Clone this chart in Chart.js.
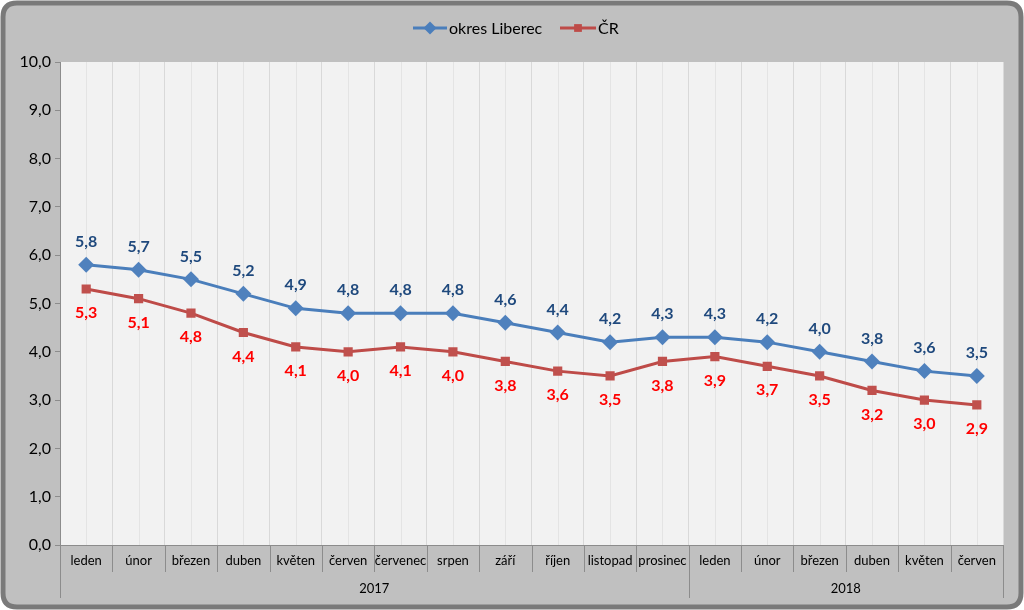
<!DOCTYPE html>
<html>
<head>
<meta charset="utf-8">
<script src="https://cdn.jsdelivr.net/npm/chart.js@4.4.0/dist/chart.umd.min.js"></script>
<style>
  html, body { margin: 0; padding: 0; background: #fff; }
  #wrap { width: 1024px; height: 610px; position: relative; }
</style>
</head>
<body>
<div id="wrap"><canvas id="myChart"></canvas></div>
<script>
// months and years (two level axis)
const months = ["leden", "únor", "březen", "duben", "květen", "červen", "červenec", "srpen", "září", "říjen", "listopad", "prosinec",
  "leden", "únor", "březen", "duben", "květen", "červen"];
const years = ["2017", "2018"];
const yearSpans = [12, 6];

const liberec = [5.8, 5.7, 5.5, 5.2, 4.9, 4.8, 4.8, 4.8, 4.6, 4.4, 4.2, 4.3, 4.3, 4.2, 4.0, 3.8, 3.6, 3.5];
const cr = [5.3, 5.1, 4.8, 4.4, 4.1, 4.0, 4.1, 4.0, 3.8, 3.6, 3.5, 3.8, 3.9, 3.7, 3.5, 3.2, 3.0, 2.9];

const seriesNames = ["okres Liberec", "ČR"];
const FONT = "Lato, 'Open Sans', sans-serif";

function fmt(v) {
  return v.toFixed(1).replace(".", ",");
}

function roundRect(c, x, y, w, h, r) {
  c.beginPath();
  c.moveTo(x + r, y);
  c.lineTo(x + w - r, y);
  c.quadraticCurveTo(x + w, y, x + w, y + r);
  c.lineTo(x + w, y + h - r);
  c.quadraticCurveTo(x + w, y + h, x + w - r, y + h);
  c.lineTo(x + r, y + h);
  c.quadraticCurveTo(x, y + h, x, y + h - r);
  c.lineTo(x, y + r);
  c.quadraticCurveTo(x, y, x + r, y);
  c.closePath();
}

// background, frame, plot area and the extra gridlines
const backPlugin = {
  id: "back",
  beforeDraw(chart) {
    const c = chart.ctx, a = chart.chartArea;
    c.save();
    roundRect(c, 3, 3, 1018, 604, 14);
    c.fillStyle = "#c0c0c0";
    c.fill();
    c.lineWidth = 5;
    c.strokeStyle = "#7a7a7a";
    c.stroke();
    c.fillStyle = "#f2f2f2";
    c.fillRect(a.left, a.top, a.right - a.left, a.bottom - a.top);
    // lighter lines through the middle of each month
    const x = chart.scales.x;
    c.strokeStyle = "#e4e4e4";
    c.lineWidth = 1;
    for (let i = 0; i < months.length; i++) {
      const px = Math.round(x.getPixelForValue(i)) + 0.5;
      c.beginPath();
      c.moveTo(px, a.top);
      c.lineTo(px, a.bottom);
      c.stroke();
    }
    c.restore();
  },
  afterDraw(chart) {
    const c = chart.ctx, a = chart.chartArea, x = chart.scales.x;
    const half = (x.getPixelForValue(1) - x.getPixelForValue(0)) / 2;
    c.save();
    c.strokeStyle = "#8c8c8c";
    c.lineWidth = 1;
    // separators between months
    for (let i = 0; i <= months.length; i++) {
      const px = Math.round(x.getPixelForValue(i) - half) + 0.5;
      c.beginPath();
      c.moveTo(px, a.bottom);
      c.lineTo(px, a.bottom + 27);
      c.stroke();
    }
    // year row
    let start = 0;
    c.font = "13px " + FONT;
    c.fillStyle = "#000";
    c.textAlign = "center";
    c.textBaseline = "middle";
    for (let j = 0; j < years.length; j++) {
      const x0 = x.getPixelForValue(start) - half;
      const x1 = x.getPixelForValue(start + yearSpans[j] - 1) + half;
      [x0, x1].forEach(function (px) {
        px = Math.round(px) + 0.5;
        c.beginPath();
        c.moveTo(px, a.bottom + 27);
        c.lineTo(px, a.bottom + 53);
        c.stroke();
      });
      c.fillText(years[j], (x0 + x1) / 2, a.bottom + 44);
      start += yearSpans[j];
    }
    // legend
    const ly = 28;
    const items = [
      { x: 413, w: 34, color: "#4a7ebb", style: "rectRot", text: seriesNames[0] },
      { x: 560, w: 36, color: "#be4b48", style: "rect", text: seriesNames[1] }
    ];
    items.forEach(function (it) {
      c.strokeStyle = it.color;
      c.lineWidth = 3;
      c.beginPath();
      c.moveTo(it.x, ly);
      c.lineTo(it.x + it.w, ly);
      c.stroke();
      c.fillStyle = it.color;
      Chart.helpers.drawPoint(c, { pointStyle: it.style, radius: it.style == "rect" ? 5.5 : 6.5, borderWidth: 0 }, it.x + it.w / 2, ly);
      c.fillStyle = "#000";
      c.font = "16px " + FONT;
      c.textAlign = "left";
      c.fillText(it.text, it.x + it.w + 2, ly + 1);
    });
    c.restore();
  },
  afterDatasetsDraw(chart) {
    const c = chart.ctx;
    c.save();
    c.font = "bold 16px " + FONT;
    c.textAlign = "center";
    c.textBaseline = "middle";
    chart.data.datasets.forEach(function (ds, i) {
      const meta = chart.getDatasetMeta(i);
      c.fillStyle = i == 0 ? "#1f497d" : "#ff0000";
      meta.data.forEach(function (pt, j) {
        const dy = i == 0 ? -23 : 24;
        c.fillText(fmt(ds.data[j]), pt.x, pt.y + dy);
      });
    });
    c.restore();
  }
};

const ctx = document.getElementById("myChart").getContext("2d");
const myChart = new Chart(ctx, {
  type: "line",
  data: {
    labels: months,
    datasets: [
      {
        label: seriesNames[0],
        data: liberec,
        borderColor: "#4a7ebb",
        backgroundColor: "#4f81bd",
        borderWidth: 3,
        pointStyle: "rectRot",
        pointRadius: 8,
        pointBorderWidth: 0,
      },
      {
        label: seriesNames[1],
        data: cr,
        borderColor: "#be4b48",
        backgroundColor: "#c0504d",
        borderWidth: 3,
        pointStyle: "rect",
        pointRadius: 6.5,
        pointBorderWidth: 0,
      },
    ],
  },
  options: {
    responsive: true,
    maintainAspectRatio: false,
    animation: false,
    layout: { padding: { left: 10, right: 21, top: 62, bottom: 12 } },
    plugins: {
      legend: { display: false },
      tooltip: { enabled: false },
    },
    scales: {
      x: {
        offset: true,
        afterFit: function (s) { s.height = 53; },
        grid: { offset: true, color: "#d9d9d9", drawTicks: false },
        border: { color: "#8c8c8c" },
        ticks: {
          color: "#000",
          font: { family: FONT, size: 13 },
          padding: 8,
          maxRotation: 0,
          autoSkip: false,
        },
      },
      y: {
        min: 0,
        max: 10,
        afterFit: function (s) { s.width = 50; },
        grid: { drawOnChartArea: false, color: "#8c8c8c", tickLength: 5 },
        border: { color: "#8c8c8c" },
        ticks: {
          stepSize: 1,
          color: "#000",
          font: { family: FONT, size: 16 },
          padding: 4,
          callback: function (v) { return fmt(v); },
        },
      },
    },
  },
  plugins: [backPlugin],
});
</script>
</body>
</html>
